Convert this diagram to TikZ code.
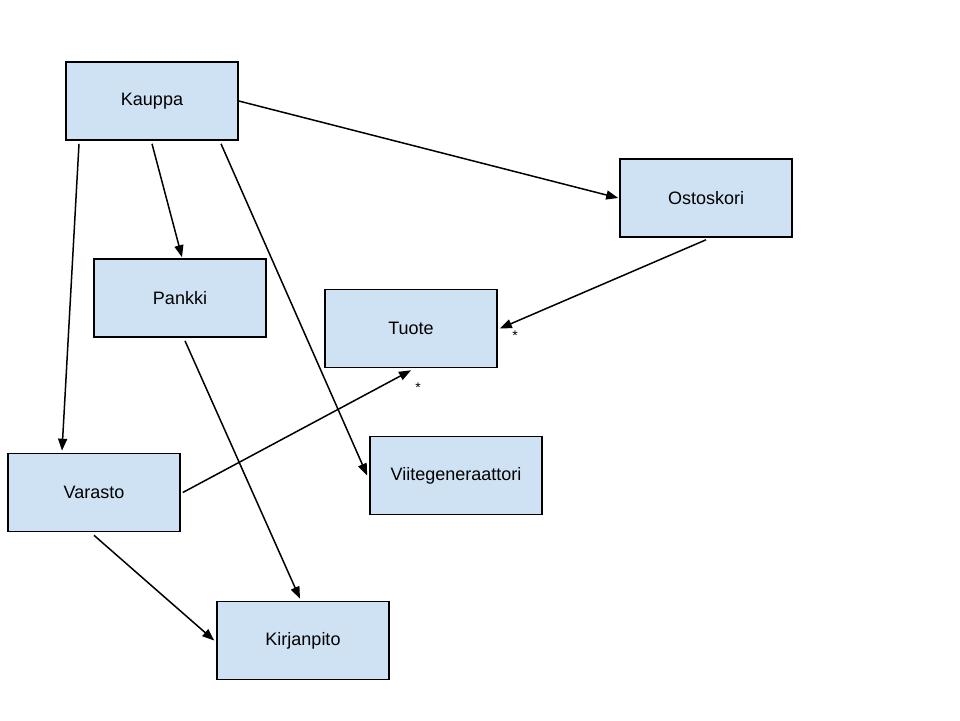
\documentclass[tikz,border=0pt]{standalone}
\usepackage{fontspec}
\setmainfont{Liberation Sans}
\usetikzlibrary{arrows.meta}
\definecolor{boxblue}{HTML}{CFE2F3}
\begin{document}
\begin{tikzpicture}[x=1pt,y=-1pt,
  cls/.style={draw=black,line width=1.6pt,fill=boxblue,minimum width=172pt,minimum height=78pt,inner sep=0pt,font=\fontsize{18}{20}\selectfont},
  conn/.style={line width=1.5pt,-{Triangle[length=12pt,width=9pt]}},
  mult/.style={font=\fontsize{14}{16}\selectfont,inner sep=0pt}]
\useasboundingbox (0,0) rectangle (960,720);
\node[cls] (kauppa) at (152,101) {Kauppa};
\node[cls] (ostoskori) at (706,198) {Ostoskori};
\node[cls] (pankki) at (180,298) {Pankki};
\node[cls] (tuote) at (411,328.5) {Tuote};
\node[cls] (viite) at (456,475.5) {Viitegeneraattori};
\node[cls] (varasto) at (94,492.5) {Varasto};
\node[cls] (kirjanpito) at (303,640.5) {Kirjanpito};
\draw[conn] (kauppa.east) -- ([xshift=-1pt]ostoskori.west);
\draw[conn] ([yshift=-3pt]kauppa.south) -- ([xshift=2pt,yshift=1pt]pankki.north);
\draw[conn] ([xshift=69pt,yshift=-3pt]kauppa.south) -- ([xshift=-2pt]viite.west);
\draw[conn] ([xshift=-73pt,yshift=-3pt]kauppa.south) -- ([xshift=-32pt,yshift=2pt]varasto.north);
\draw[conn] ([yshift=-2pt]ostoskori.south) -- ([xshift=2pt]tuote.east);
\draw[conn] ([xshift=2pt]varasto.east) -- ([yshift=-2pt]tuote.south);
\draw[conn] ([xshift=5pt,yshift=-3pt]pankki.south) -- ([xshift=-3pt,yshift=2pt]kirjanpito.north);
\draw[conn] ([yshift=-3pt]varasto.south) -- ([xshift=-2pt]kirjanpito.west);
\node[mult] (m1) at (515,336) {*};
\node[mult] (m2) at (418,388) {*};
\end{tikzpicture}
\end{document}
